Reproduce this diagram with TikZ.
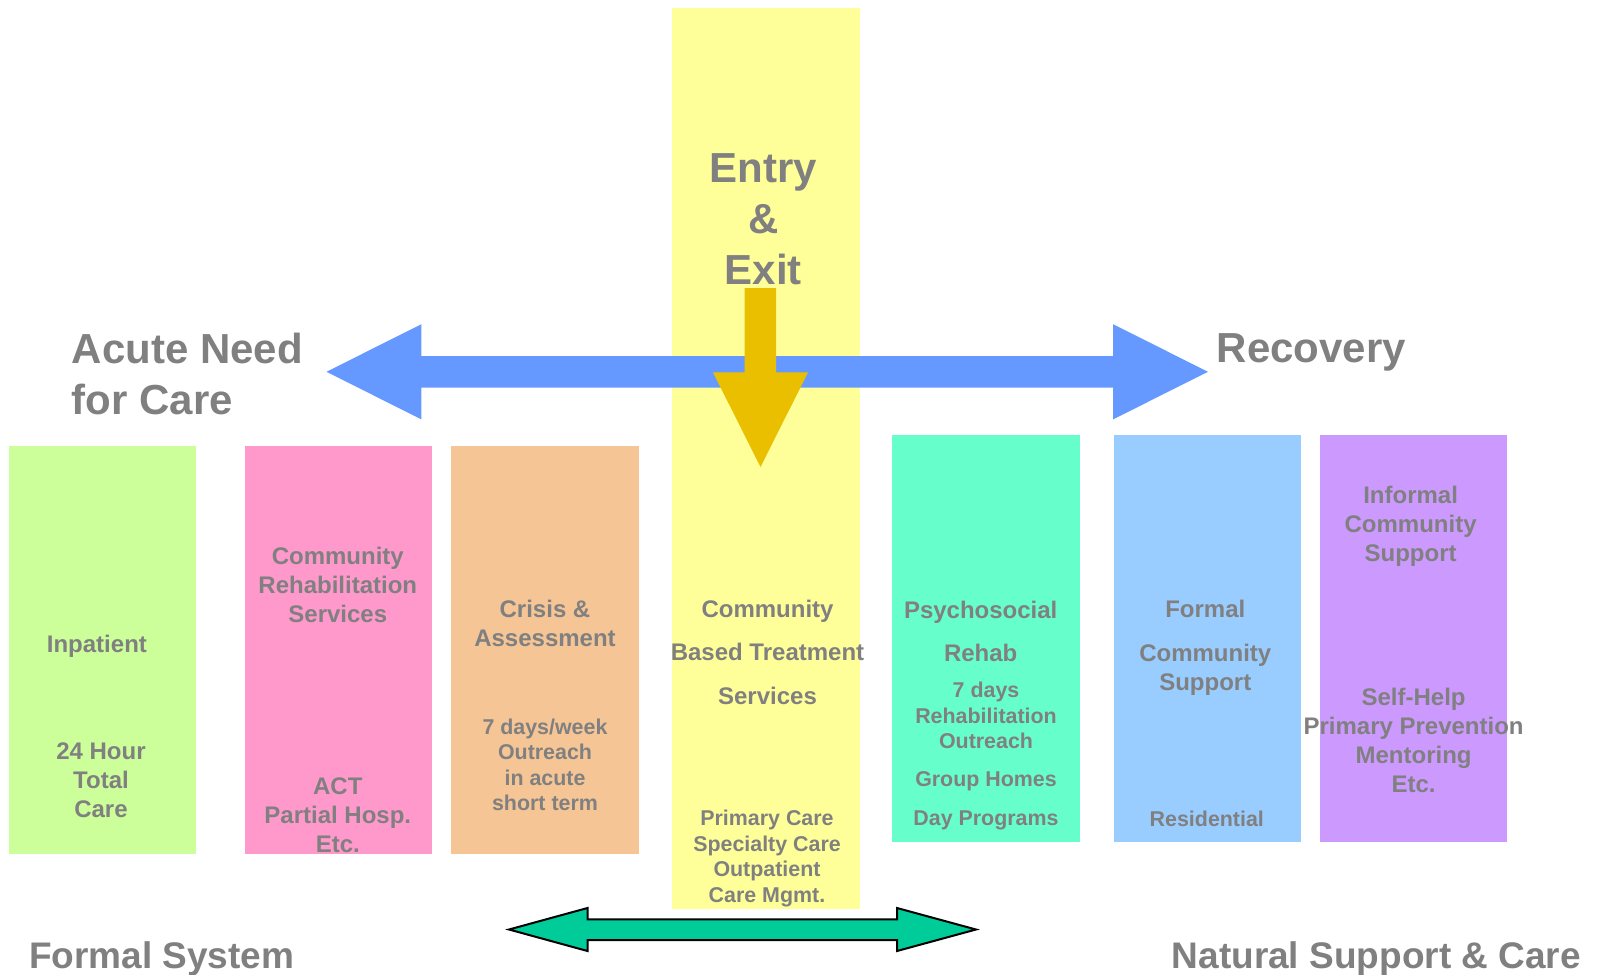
\documentclass[tikz,border=0pt]{standalone}
\usepackage{fontspec}
\setmainfont{Liberation Sans}
\definecolor{txtgray}{HTML}{808080}
\definecolor{cgreen}{HTML}{CCFF99}
\definecolor{cpink}{HTML}{FF99CC}
\definecolor{corange}{HTML}{F5C595}
\definecolor{cyellow}{HTML}{FFFF99}
\definecolor{cteal}{HTML}{66FFCC}
\definecolor{cblue}{HTML}{99CCFF}
\definecolor{cpurple}{HTML}{CC99FF}
\definecolor{arrowblue}{HTML}{6699FF}
\definecolor{goldarrow}{HTML}{EABF00}
\definecolor{dgreen}{HTML}{00CC99}
\tikzset{
  lbl/.style={text=txtgray, inner sep=0pt, align=center, text depth=0pt,
    font=\bfseries\fontsize{12}{14.5}\selectfont},
  sml/.style={lbl, font=\bfseries\fontsize{10.7}{12.75}\selectfont},
  big/.style={lbl, font=\bfseries\fontsize{21}{25.5}\selectfont},
  mid/.style={lbl, font=\bfseries\fontsize{18.5}{22}\selectfont},
  wide/.style={lbl, font=\bfseries\fontsize{12}{21.7}\selectfont},
}
\begin{document}
\begin{tikzpicture}[x=0.5pt,y=-0.5pt]
\useasboundingbox (0,0) rectangle (1600,974);
% columns
\fill[cgreen]  (9.2,446) rectangle (195.9,854);
\fill[cpink]   (244.9,446) rectangle (431.6,854);
\fill[corange] (451,446) rectangle (638.8,854);
\fill[cyellow] (672,8) rectangle (860,908.5);
\fill[cteal]   (892,434.5) rectangle (1080,841.7);
\fill[cblue]   (1113.5,434.5) rectangle (1301,841.7);
\fill[cpurple] (1320.2,434.5) rectangle (1507.1,841.7);
% blue horizontal double arrow
\fill[arrowblue] (326.5,371.8) -- (421.4,324.2) -- (421.4,356.1) -- (1113,356.1)
  -- (1113,324.2) -- (1208,371.8) -- (1113,419.4) -- (1113,387.6)
  -- (421.4,387.6) -- (421.4,419.4) -- cycle;
% gold down arrow
\fill[goldarrow] (744.5,288) -- (776,288) -- (776,372.4) -- (808,372.4)
  -- (760.5,467) -- (713,372.4) -- (744.5,372.4) -- cycle;
% green double arrow
\filldraw[fill=dgreen, draw=black, line width=1pt] (509,929.5) -- (587.5,908)
  -- (587.5,919.3) -- (897,919.3) -- (897,908) -- (976,929.5) -- (897,951)
  -- (897,940.2) -- (587.5,940.2) -- (587.5,951) -- cycle;
% big labels
\node[big] (entry) at (763.3,219.4) {Entry\\\&\\Exit};
\node[big, anchor=west, align=left] (acute) at (71.4,373.5) {Acute Need\\for Care};
\node[big, anchor=west] (recovery) at (1216.3,348) {Recovery};
\node[mid, anchor=west] (formal) at (28.6,955) {Formal System};
\node[mid, anchor=west] (natural) at (1171.4,955) {Natural Support \& Care};
% green column
\node[lbl] (inp) at (96.9,644) {Inpatient};
\node[lbl] (inp2) at (101,780) {24 Hour\\Total\\Care};
% pink column
\node[lbl] (crs) at (337.8,585) {Community\\Rehabilitation\\Services};
\node[lbl] (act) at (337.8,815.5) {ACT\\Partial Hosp.\\Etc.};
% orange column
\node[lbl] (crisis) at (545,623.5) {Crisis \&\\Assessment};
\node[sml] (crisis2) at (545,764.5) {7 days/week\\Outreach\\in acute\\short term};
% yellow column
\node[wide] (cbt) at (767.5,652) {Community\\Based Treatment\\Services};
\node[sml] (prim) at (767,856) {Primary Care\\Specialty Care\\Outpatient\\Care Mgmt.};
% teal column
\node[wide] (psy) at (980.7,631) {Psychosocial\\Rehab};
\node[sml] (psy2) at (986,715.3) {7 days\\Rehabilitation\\Outreach};
\node[sml] (grp) at (986,779.3) {Group Homes};
\node[sml] (day) at (986,818.3) {Day Programs};
% blue column
\node[lbl] (fcs) at (1205.3,609) {Formal};
\node[lbl] (fcs2) at (1205.3,667.2) {Community\\Support};
\node[sml] (res) at (1206.8,818.3) {Residential};
% purple column
\node[lbl] (ics) at (1410.6,524) {Informal\\Community\\Support};
\node[lbl] (sh) at (1413.6,740) {Self-Help\\Primary Prevention\\Mentoring\\Etc.};
\end{tikzpicture}
\end{document}
